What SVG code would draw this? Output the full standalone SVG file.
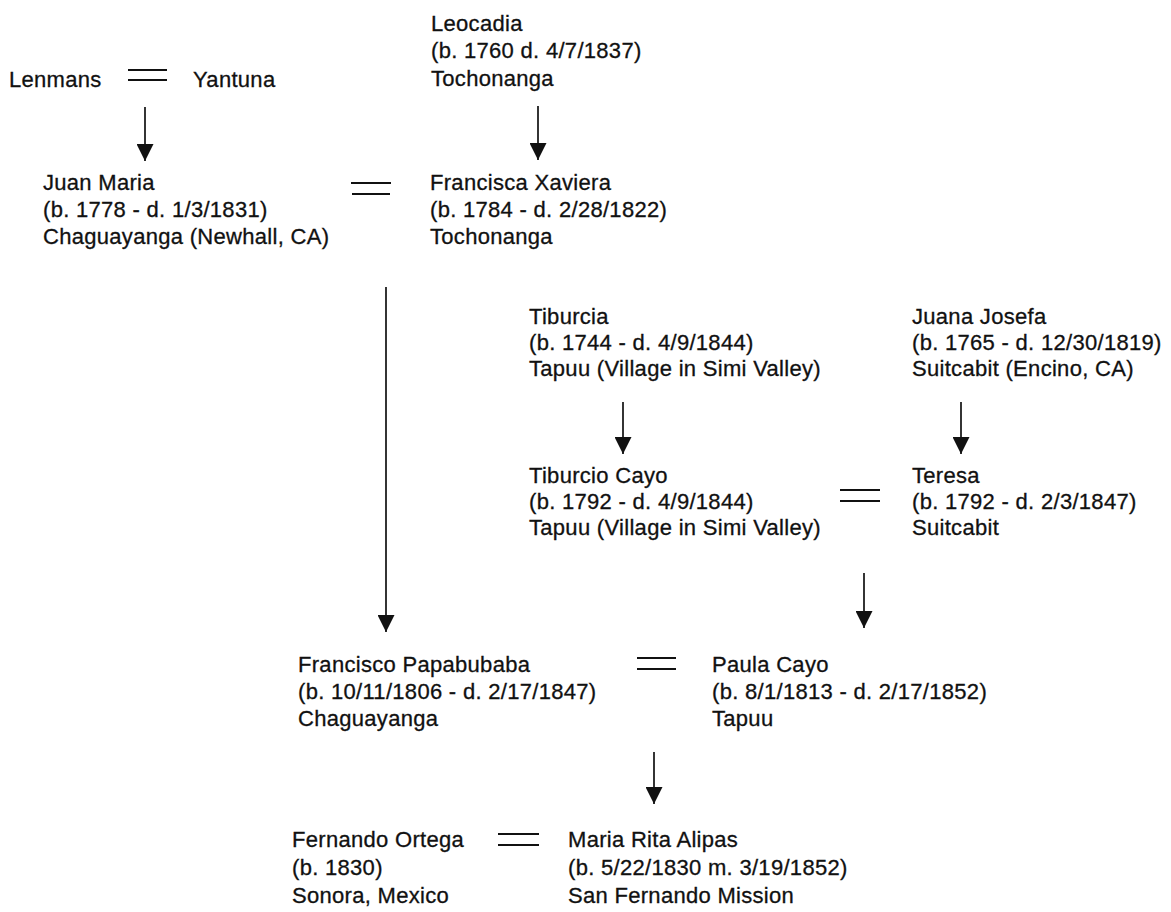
<svg xmlns="http://www.w3.org/2000/svg" width="1171" height="912" viewBox="0 0 1171 912">
<style>
  text { font-family: "Liberation Sans", Arial, sans-serif; font-size: 22px; letter-spacing: 0.3px; fill: #111; stroke: #111; stroke-width: 0.3px; }
  .conn line { stroke: #111; stroke-width: 1.7; }
  .eq line { stroke: #111; stroke-width: 1.9; }
</style>
<defs>
  <marker id="ah" viewBox="0 0 17 17" refX="17" refY="8.5" markerWidth="17" markerHeight="17" markerUnits="userSpaceOnUse" orient="auto">
    <path d="M0,0 L17,8.5 L0,17 z" fill="#111"/>
  </marker>
</defs>
<rect width="1171" height="912" fill="#fff"/>

<g id="lenmans"><text x="9" y="87">Lenmans</text></g>
<g id="yantuna"><text x="193" y="87">Yantuna</text></g>
<g id="leocadia">
  <text x="431" y="31">Leocadia</text>
  <text x="431" y="58">(b. 1760 d. 4/7/1837)</text>
  <text x="431" y="86">Tochonanga</text>
</g>
<g id="juan-maria">
  <text x="43" y="190">Juan Maria</text>
  <text x="43" y="217">(b. 1778 - d. 1/3/1831)</text>
  <text x="43" y="244">Chaguayanga (Newhall, CA)</text>
</g>
<g id="francisca-xaviera">
  <text x="430" y="190">Francisca Xaviera</text>
  <text x="430" y="217">(b. 1784 - d. 2/28/1822)</text>
  <text x="430" y="244">Tochonanga</text>
</g>
<g id="tiburcia">
  <text x="529" y="324">Tiburcia</text>
  <text x="529" y="350">(b. 1744 - d. 4/9/1844)</text>
  <text x="529" y="376">Tapuu (Village in Simi Valley)</text>
</g>
<g id="juana-josefa">
  <text x="912" y="324">Juana Josefa</text>
  <text x="912" y="350">(b. 1765 - d. 12/30/1819)</text>
  <text x="912" y="376">Suitcabit (Encino, CA)</text>
</g>
<g id="tiburcio-cayo">
  <text x="529" y="483">Tiburcio Cayo</text>
  <text x="529" y="509">(b. 1792 - d. 4/9/1844)</text>
  <text x="529" y="535">Tapuu (Village in Simi Valley)</text>
</g>
<g id="teresa">
  <text x="912" y="483">Teresa</text>
  <text x="912" y="509">(b. 1792 - d. 2/3/1847)</text>
  <text x="912" y="535">Suitcabit</text>
</g>
<g id="francisco-papabubaba">
  <text x="298" y="672">Francisco Papabubaba</text>
  <text x="298" y="699">(b. 10/11/1806 - d. 2/17/1847)</text>
  <text x="298" y="726">Chaguayanga</text>
</g>
<g id="paula-cayo">
  <text x="712" y="672">Paula Cayo</text>
  <text x="712" y="699">(b. 8/1/1813 - d. 2/17/1852)</text>
  <text x="712" y="726">Tapuu</text>
</g>
<g id="fernando-ortega">
  <text x="292" y="847">Fernando Ortega</text>
  <text x="292" y="875">(b. 1830)</text>
  <text x="292" y="903">Sonora, Mexico</text>
</g>
<g id="maria-rita-alipas">
  <text x="568" y="847">Maria Rita Alipas</text>
  <text x="568" y="875">(b. 5/22/1830 m. 3/19/1852)</text>
  <text x="568" y="903">San Fernando Mission</text>
</g>

<g id="connectors">
  <g class="eq">
    <line x1="128" y1="70" x2="167" y2="70"/><line x1="128" y1="80" x2="167" y2="80"/>
    <line x1="351" y1="183" x2="391" y2="183"/><line x1="352" y1="194" x2="390" y2="194"/>
    <line x1="840" y1="490" x2="880" y2="490"/><line x1="840" y1="501" x2="880" y2="501"/>
    <line x1="637" y1="658" x2="676" y2="658"/><line x1="637" y1="669" x2="676" y2="669"/>
    <line x1="498" y1="834" x2="539" y2="834"/><line x1="498" y1="845" x2="539" y2="845"/>
  </g>
  <g class="conn">
    <line x1="145" y1="107" x2="145" y2="161" marker-end="url(#ah)"/>
    <line x1="538" y1="106" x2="538" y2="160" marker-end="url(#ah)"/>
    <line x1="386" y1="287" x2="386" y2="632" marker-end="url(#ah)"/>
    <line x1="623" y1="402" x2="623" y2="454" marker-end="url(#ah)"/>
    <line x1="961" y1="402" x2="961" y2="454" marker-end="url(#ah)"/>
    <line x1="864" y1="573" x2="864" y2="628" marker-end="url(#ah)"/>
    <line x1="654" y1="752" x2="654" y2="804" marker-end="url(#ah)"/>
  </g>
</g>
</svg>
